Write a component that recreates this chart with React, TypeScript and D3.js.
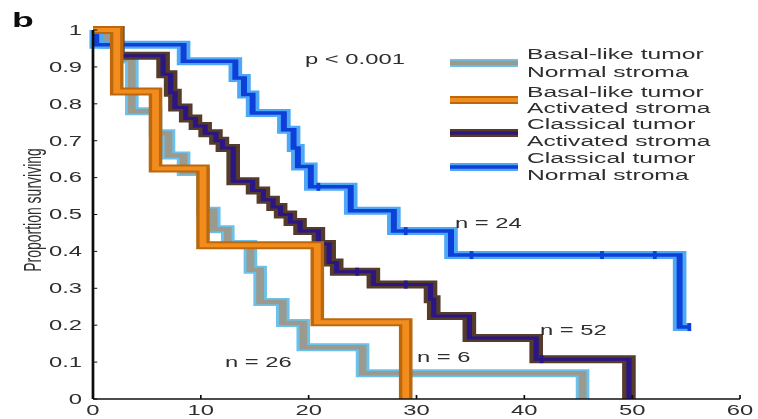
import React from "react";
import * as d3 from "d3";

// ---- data ----
const xTicks = [0, 10, 20, 30, 40, 50, 60];
const yTicks = [0, 0.1, 0.2, 0.3, 0.4, 0.5, 0.6, 0.7, 0.8, 0.9, 1];
const yTickLabels = ["0", "0.1", "0.2", "0.3", "0.4", "0.5", "0.6", "0.7", "0.8", "0.9", "1"];

const seriesNames = [
  ["Basal-like tumor", "Normal stroma"],
  ["Basal-like tumor", "Activated stroma"],
  ["Classical tumor", "Activated stroma"],
  ["Classical tumor", "Normal stroma"],
];

// Basal-like tumor / Normal stroma (n = 26)
const basalNormalT = [0, 1.2, 2.3, 3.6, 5.8, 7.0, 8.4, 10.2, 11.2, 12.5, 14.6, 15.5, 17.6, 19.5, 25.0, 45.4];
const basalNormalS = [1, 0.96, 0.92, 0.78, 0.72, 0.66, 0.615, 0.51, 0.46, 0.42, 0.35, 0.263, 0.206, 0.14, 0.07, 0];
const basalNormalEnd = 45.4;

// Basal-like tumor / Activated stroma (n = 6)
const basalActT = [0, 2.2, 5.8, 10.2, 20.8, 29.0];
const basalActS = [1, 0.833, 0.625, 0.417, 0.208, 0];
const basalActEnd = 29.0;

// Classical tumor / Activated stroma (n = 52)
const classActT = [0, 2.3, 6.5, 7.2, 7.6, 8.6, 9.5, 10.4, 11.4, 12.0, 13.0, 14.8, 15.8, 16.7, 17.4, 18.3, 19.2, 20.9, 21.9, 22.6, 26.0, 31.3, 31.6, 34.9, 41.1, 49.7];
const classActS = [1, 0.93, 0.88, 0.83, 0.79, 0.76, 0.74, 0.72, 0.70, 0.68, 0.59, 0.565, 0.54, 0.52, 0.50, 0.48, 0.455, 0.42, 0.37, 0.345, 0.31, 0.27, 0.225, 0.165, 0.108, 0];
const classActEnd = 49.7;
const classActCensorT = [24.5, 29.0, 41.6];
const classActCensorS = [0.345, 0.31, 0.108];

// Classical tumor / Normal stroma (n = 24)
const classNormT = [0, 0.3, 8.4, 13.2, 14.0, 14.8, 17.7, 18.6, 19.0, 20.2, 23.9, 27.9, 33.2, 54.4];
const classNormS = [1, 0.96, 0.915, 0.87, 0.825, 0.775, 0.73, 0.68, 0.63, 0.575, 0.51, 0.455, 0.39, 0.195];
const classNormEnd = 55.3;
const classNormCensorT = [20.9, 29.0, 35.1, 47.2, 52.1, 55.3];
const classNormCensorS = [0.575, 0.455, 0.39, 0.39, 0.39, 0.195];

const nLabels = ["n = 26", "n = 6", "n = 52", "n = 24"];
const pLabel = "p < 0.001";

// ---- layout / style ----
const W = 758;
const H = 419;
const S = 1.7; // horizontal stretch of the reference image
const FONT = "'Liberation Sans', Arial, sans-serif";

const styles = [
  { outer: "#6cc0ea", inner: "#9b9a8e", ow: 8, iw: 4.5 },
  { outer: "#bb6810", inner: "#f28c1e", ow: 8, iw: 4 },
  { outer: "#553a2c", inner: "#2a1684", ow: 8, iw: 3 },
  { outer: "#4fa8f5", inner: "#0c3fd8", ow: 8, iw: 3.5 },
];

export default function App() {
  const x = d3.scaleLinear().domain([0, 60]).range([93 / S, 740 / S]);
  const y = d3.scaleLinear().domain([0, 1]).range([399, 30]);
  const line = d3
    .line<[number, number]>()
    .x((d) => x(d[0]))
    .y((d) => y(d[1]))
    .curve(d3.curveStepAfter);

  const mk = (T: number[], Sv: number[], end: number): [number, number][] => {
    const pts: [number, number][] = T.map((t, i) => [t, Sv[i]]);
    pts.push([end, Sv[Sv.length - 1]]);
    return pts;
  };

  const series = [
    { pts: mk(basalNormalT, basalNormalS, basalNormalEnd), cT: [] as number[], cS: [] as number[] },
    { pts: mk(basalActT, basalActS, basalActEnd), cT: [] as number[], cS: [] as number[] },
    { pts: mk(classActT, classActS, classActEnd), cT: classActCensorT, cS: classActCensorS },
    { pts: mk(classNormT, classNormS, classNormEnd), cT: classNormCensorT, cS: classNormCensorS },
  ];
  const drawOrder = [0, 3, 2, 1];

  const legendLineY = [63, 100, 133, 167];
  const legendTextY = [
    [59, 77],
    [97, 113],
    [129, 146],
    [163, 180],
  ];
  const nPos = [
    [225, 367],
    [417, 362],
    [540, 335],
    [455, 228],
  ];

  return (
    <svg
      width={W}
      height={H}
      style={{ position: "absolute", left: 0, top: 0, background: "#fff" }}
    >
      <defs>
        <filter id="soft" x="-5%" y="-5%" width="110%" height="110%">
          <feGaussianBlur stdDeviation="0.55" />
        </filter>
      </defs>
      <rect x={0} y={0} width={W} height={H} fill="#fff" />
      <g filter="url(#soft)">
        <g transform={`scale(${S},1)`} fontFamily={FONT} fill="#2e2e2e">
          {/* panel letter */}
          <text x={12 / S} y={27} fontSize={21} fontWeight="bold" fill="#111">
            b
          </text>

          {/* curves */}
          {drawOrder.map((i) => (
            <g key={i}>
              <path d={line(series[i].pts) || ""} fill="none" stroke={styles[i].outer} strokeWidth={styles[i].ow} />
              <path d={line(series[i].pts) || ""} fill="none" stroke={styles[i].inner} strokeWidth={styles[i].iw} />
              {series[i].cT.map((t, k) => (
                <line
                  key={k}
                  x1={x(t)}
                  x2={x(t)}
                  y1={y(series[i].cS[k]) - 4}
                  y2={y(series[i].cS[k]) + 4}
                  stroke={styles[i].inner}
                  strokeWidth={2.2}
                />
              ))}
            </g>
          ))}

          {/* axes */}
          <line x1={x(0)} x2={x(0)} y1={y(1)} y2={y(0)} stroke="#111" strokeWidth={1.6} />
          <line x1={x(0)} x2={x(60)} y1={y(0)} y2={y(0)} stroke="#111" strokeWidth={1.6} />
          {yTicks.map((v, i) => (
            <g key={"y" + i}>
              <line x1={x(0)} x2={x(0) + 2.5} y1={y(v)} y2={y(v)} stroke="#111" strokeWidth={1} />
              <text x={82 / S} y={y(v)} dy="0.35em" textAnchor="end" fontSize={14}>
                {yTickLabels[i]}
              </text>
            </g>
          ))}
          {xTicks.map((v, i) => (
            <g key={"x" + i}>
              <line x1={x(v)} x2={x(v)} y1={y(0)} y2={y(0) - 4} stroke="#111" strokeWidth={1} />
              <text x={x(v)} y={415} textAnchor="middle" fontSize={14}>
                {String(v)}
              </text>
            </g>
          ))}
          <text
            transform={`translate(${33 / S},210) rotate(-90)`}
            textAnchor="middle"
            dy="0.35em"
            fontSize={14}
          >
            Proportion surviving
          </text>

          {/* p value and n labels */}
          <text x={305 / S} y={64} fontSize={14}>
            {pLabel}
          </text>
          {nLabels.map((t, i) => (
            <text key={"n" + i} x={nPos[i][0] / S} y={nPos[i][1]} fontSize={14}>
              {t}
            </text>
          ))}

          {/* legend */}
          {seriesNames.map((nm, i) => (
            <g key={"lg" + i}>
              <line x1={450 / S} x2={518 / S} y1={legendLineY[i]} y2={legendLineY[i]} stroke={styles[i].outer} strokeWidth={styles[i].ow} />
              <line x1={450 / S} x2={518 / S} y1={legendLineY[i]} y2={legendLineY[i]} stroke={styles[i].inner} strokeWidth={styles[i].iw} />
              <text x={527 / S} y={legendTextY[i][0]} fontSize={14.5}>
                {nm[0]}
              </text>
              <text x={527 / S} y={legendTextY[i][1]} fontSize={14.5}>
                {nm[1]}
              </text>
            </g>
          ))}
        </g>
      </g>
    </svg>
  );
}
